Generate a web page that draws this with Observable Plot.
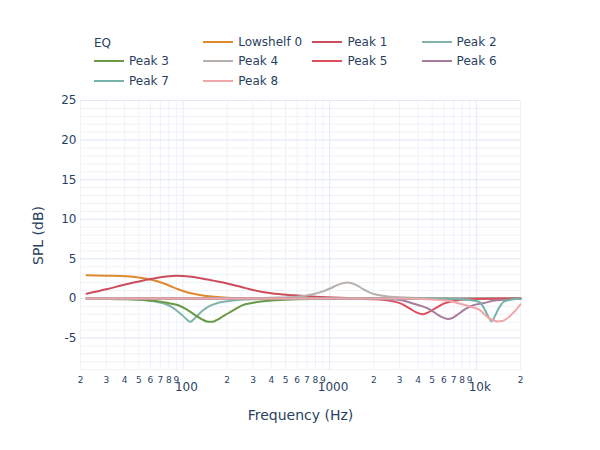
<!DOCTYPE html>
<html><head><meta charset="utf-8">
<script src="https://cdn.jsdelivr.net/npm/d3@7"></script>
<script src="https://cdn.jsdelivr.net/npm/@observablehq/plot@0.6"></script>
<style>
body{margin:0;background:#fff;font-family:"DejaVu Sans",Verdana,sans-serif;}
#wrap{position:relative;width:600px;height:450px;overflow:hidden;}
#legend{position:absolute;left:0;top:0;width:600px;height:90px;}
#chart{position:absolute;left:0;top:90px;}
.lt{position:absolute;font-size:12px;color:#2a3f5f;white-space:nowrap;line-height:16px;}
.sw{position:absolute;height:2px;width:30px;}
</style></head>
<body>
<div id="wrap"><div id="legend"></div><div id="chart"></div></div>
<script>
// ---- data ----
const seriesNames = ["Lowshelf 0","Peak 1","Peak 2","Peak 3","Peak 4","Peak 5","Peak 6","Peak 7","Peak 8"];
const seriesColors = ["#e08a2e","#cc4e5c","#80b3aa","#6a9a45","#b8b0aa","#dc4f5f","#a97b9a","#76b3ab","#f2a5ab"];

const lowshelf0Freq = [22, 30, 41, 50, 63, 75, 86, 100, 118, 140, 163, 200, 250, 300, 500, 1000, 20000];
const lowshelf0Gain = [2.93, 2.88, 2.8, 2.65, 2.3, 1.85, 1.4, 0.95, 0.6, 0.35, 0.2, 0.08, 0.04, 0.02, 0.01, 0, 0];

const peak1Freq = [22, 30, 41, 50, 60, 75, 90, 110, 132, 160, 200, 250, 300, 400, 570, 800, 1200, 2000, 5000, 20000];
const peak1Gain = [0.6, 1.15, 1.8, 2.15, 2.45, 2.75, 2.88, 2.78, 2.55, 2.25, 1.9, 1.45, 1.07, 0.65, 0.4, 0.22, 0.1, 0.04, 0.01, 0];

const peak2Freq = [22, 40, 55, 65, 76, 85, 93, 100, 106, 112, 118, 125, 135, 150, 170, 200, 245, 300, 500, 20000];
const peak2Gain = [-0.02, -0.08, -0.22, -0.4, -0.7, -1.15, -1.7, -2.2, -2.65, -2.95, -2.65, -2.2, -1.6, -1.0, -0.6, -0.35, -0.18, -0.1, -0.04, 0];

const peak3Freq = [22, 40, 55, 70, 80, 93, 105, 121, 135, 145, 153, 162, 175, 193, 220, 251, 300, 400, 600, 1000, 20000];
const peak3Gain = [-0.03, -0.1, -0.2, -0.4, -0.6, -0.86, -1.35, -2.1, -2.65, -2.9, -2.95, -2.9, -2.6, -2.1, -1.5, -0.9, -0.55, -0.25, -0.1, -0.03, 0];

const peak4Freq = [22, 200, 400, 600, 780, 900, 1014, 1150, 1315, 1500, 1700, 2000, 2300, 2800, 4000, 8000, 20000];
const peak4Gain = [0, 0.02, 0.1, 0.23, 0.57, 0.9, 1.29, 1.75, 2.0, 1.75, 1.16, 0.57, 0.35, 0.18, 0.06, 0.01, 0];

const peak5Freq = [22, 1000, 2000, 2600, 3040, 3530, 3900, 4300, 4700, 5200, 6050, 7000, 7700, 9000, 12000, 20000];
const peak5Gain = [0, -0.02, -0.1, -0.3, -0.63, -1.3, -1.75, -2.0, -1.75, -1.3, -0.63, -0.32, -0.2, -0.1, -0.04, 0];

const peak6Freq = [22, 1500, 2500, 3040, 3690, 4300, 4870, 5500, 6000, 6400, 6900, 7500, 8240, 9000, 10000, 11100, 13000, 16000, 20000];
const peak6Gain = [0, -0.02, -0.1, -0.2, -0.63, -1.0, -1.45, -2.1, -2.45, -2.6, -2.45, -2.0, -1.45, -1.05, -0.75, -0.6, -0.3, -0.15, -0.05];

const peak7Freq = [22, 5000, 8000, 9500, 10500, 11300, 12000, 12700, 13400, 14200, 15300, 16500, 18000, 20000];
const peak7Gain = [0, -0.02, -0.1, -0.25, -0.45, -1.26, -2.2, -2.9, -2.2, -1.26, -0.45, -0.22, -0.1, -0.04];

const peak8Freq = [22, 3000, 5000, 5650, 6330, 7200, 8240, 9300, 10500, 12000, 13000, 14000, 15000, 16000, 17000, 18000, 19000, 20000];
const peak8Gain = [0, -0.02, -0.12, -0.2, -0.27, -0.5, -0.8, -1.1, -1.45, -2.4, -2.75, -2.9, -2.85, -2.6, -2.2, -1.75, -1.25, -0.75];

const seriesFreqs = [lowshelf0Freq, peak1Freq, peak2Freq, peak3Freq, peak4Freq, peak5Freq, peak6Freq, peak7Freq, peak8Freq];
const seriesGains = [lowshelf0Gain, peak1Gain, peak2Gain, peak3Gain, peak4Gain, peak5Gain, peak6Gain, peak7Gain, peak8Gain];

// ticks
const yTicks = [-5, 0, 5, 10, 15, 20, 25];
const yMinorTicks = [-9,-8,-7,-6,-5,-4,-3,-2,-1,0,1,2,3,4,5,6,7,8,9,10,11,12,13,14,15,16,17,18,19,20,21,22,23,24,25];
const xMajorTicks = [100, 1000, 10000];
const xMajorLabels = ["100", "1000", "10k"];
const xMinorTicks = [20,30,40,50,60,70,80,90,200,300,400,500,600,700,800,900,2000,3000,4000,5000,6000,7000,8000,9000,20000];
const xMinorLabels = ["2","3","4","5","6","7","8","9","2","3","4","5","6","7","8","9","2","3","4","5","6","7","8","9","2"];

const legendTitle = "EQ";
const xTitle = "Frequency (Hz)";
const yTitle = "SPL (dB)";

// ---- build ----
const seriesRows = seriesNames.map((name, i) =>
  seriesFreqs[i].map((f, j) => ({name, f, g: seriesGains[i][j]})));

const ink = "#2a3f5f";
const font = '"DejaVu Sans", Verdana, sans-serif';
const chart = Plot.plot({
  width: 600, height: 360,
  marginTop: 10, marginBottom: 80, marginLeft: 80, marginRight: 80,
  style: {fontFamily: font, color: ink, background: "#fff", overflow: "visible"},
  x: {type: "log", domain: [20, 20000]},
  y: {domain: [-9.1, 25]},
  marks: [
    Plot.gridY(yMinorTicks, {stroke: "#eef2f8", strokeOpacity: 1}),
    Plot.gridX(xMinorTicks, {stroke: "#eef2f8", strokeOpacity: 1}),
    Plot.gridY(yTicks, {stroke: "#e4eaf3", strokeOpacity: 1}),
    Plot.gridX(xMajorTicks, {stroke: "#e4eaf3", strokeOpacity: 1}),
    Plot.axisY(yTicks, {tickSize: 0, tickPadding: 4, fontSize: 12, tickFormat: d => String(d), label: null}),
    Plot.axisX([], {tickSize: 0, label: null}),
    Plot.text(xMinorTicks, {x: d => d, frameAnchor: "bottom", dy: 9.5, fontSize: 9, textAnchor: "middle", lineAnchor: "middle", fill: ink, text: (d, i) => xMinorLabels[i]}),
    Plot.text(xMajorTicks, {x: d => d, frameAnchor: "bottom", dy: 17, dx: 3.4, fontSize: 12, textAnchor: "middle", lineAnchor: "middle", fill: ink, text: (d, i) => xMajorLabels[i]}),
    ...seriesRows.map((rows, i) => Plot.line(rows, {x: "f", y: "g", stroke: seriesColors[i], strokeWidth: 2, curve: "monotone-x"})),
    Plot.text([xTitle], {frameAnchor: "bottom", dy: 45, fontSize: 14, textAnchor: "middle", lineAnchor: "middle", text: d => d, fill: ink}),
    Plot.text([yTitle], {frameAnchor: "left", dx: -42, rotate: -90, fontSize: 14, textAnchor: "middle", lineAnchor: "middle", text: d => d, fill: ink})
  ]
});
document.getElementById("chart").appendChild(chart);

// legend
const legend = document.getElementById("legend");
const colStep = 109.2, rowStep = 19.5, left0 = 94, top0 = 41.5;
const title = document.createElement("div");
title.className = "lt";
title.style.left = left0 + "px";
title.style.top = (top0 - 7) + "px";
title.textContent = legendTitle;
legend.appendChild(title);
seriesNames.forEach((name, i) => {
  const slot = i + 1;
  const col = slot % 4, row = Math.floor(slot / 4);
  const x = left0 + col * colStep, y = top0 + row * rowStep;
  const sw = document.createElement("div");
  sw.className = "sw";
  sw.style.left = x + "px";
  sw.style.top = (y - 1) + "px";
  sw.style.background = seriesColors[i];
  legend.appendChild(sw);
  const t = document.createElement("div");
  t.className = "lt";
  t.style.left = (x + 35) + "px";
  t.style.top = (y - 8) + "px";
  t.textContent = name;
  legend.appendChild(t);
});
</script>
</body></html>
